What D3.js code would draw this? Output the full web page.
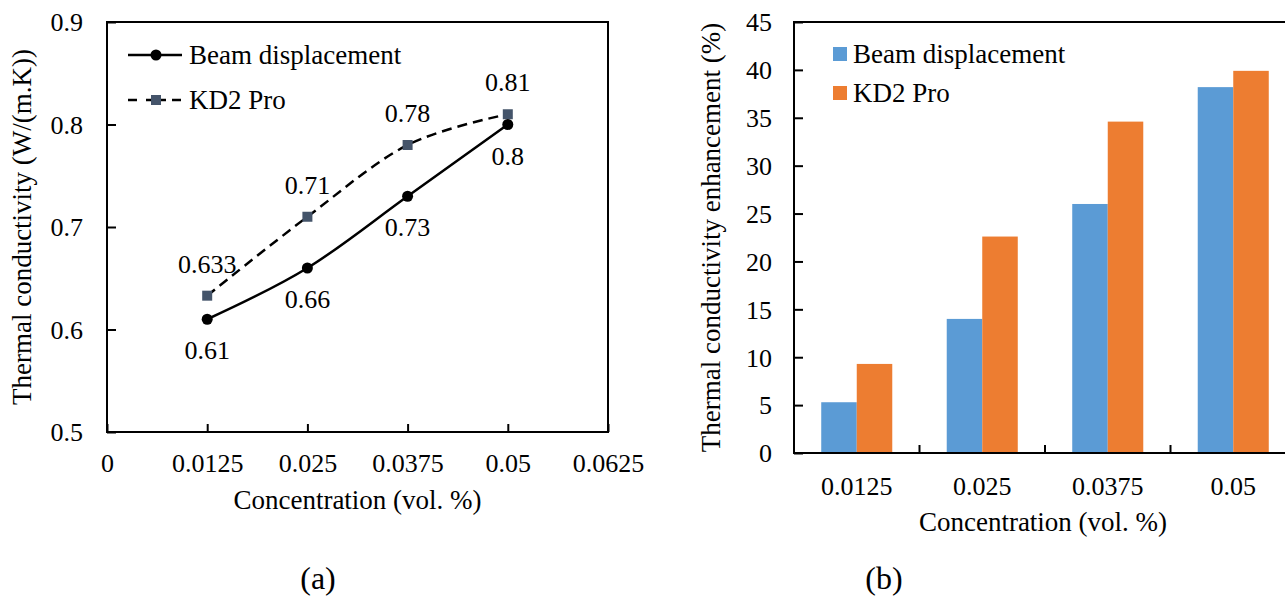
<!DOCTYPE html>
<html>
<head>
<meta charset="utf-8">
<script src="https://cdn.jsdelivr.net/npm/d3@7"></script>
<style>
  html, body { margin: 0; padding: 0; background: #fff; }
  svg { display: block; font-family: "Liberation Serif", "Times New Roman", serif; }
</style>
</head>
<body>
<svg id="fig" width="1285" height="601"></svg>
<script>
// ---- (a) thermal conductivity vs concentration ----
const concentrations = [0.0125, 0.025, 0.0375, 0.05];
const beamConductivity = [0.61, 0.66, 0.73, 0.80];
const beamLabels = ["0.61", "0.66", "0.73", "0.8"];
const kd2Conductivity = [0.633, 0.71, 0.78, 0.81];
const kd2Labels = ["0.633", "0.71", "0.78", "0.81"];
const xTicksA = [0, 0.0125, 0.025, 0.0375, 0.05, 0.0625];
const xTickLabelsA = ["0", "0.0125", "0.025", "0.0375", "0.05", "0.0625"];
const yTicksA = [0.5, 0.6, 0.7, 0.8, 0.9];
const yTickLabelsA = ["0.5", "0.6", "0.7", "0.8", "0.9"];

// ---- (b) enhancement bars ----
const categoriesB = ["0.0125", "0.025", "0.0375", "0.05"];
const beamEnhancement = [5.3, 14.0, 26.0, 38.2];
const kd2Enhancement = [9.3, 22.6, 34.6, 39.9];
const yTicksB = [0, 5, 10, 15, 20, 25, 30, 35, 40, 45];
const seriesNames = ["Beam displacement", "KD2 Pro"];
const barColors = ["#5B9BD5", "#ED7D31"];

const svg = d3.select("#fig");
const tickFont = 26, labelFont = 27;

// ================= Panel (a) =================
const A = { left: 107, right: 608, top: 22, bottom: 432 };
const xA = d3.scaleLinear().domain([0, 0.0625]).range([A.left, A.right]);
const yA = d3.scaleLinear().domain([0.5, 0.9]).range([A.bottom, A.top]);
const gA = svg.append("g");

const axA_x = gA.append("g").attr("transform", `translate(0,${A.bottom})`)
  .call(d3.axisBottom(xA).tickValues(xTicksA).tickSizeInner(-8).tickSizeOuter(0)
    .tickFormat((d, i) => xTickLabelsA[i]));
const axA_y = gA.append("g").attr("transform", `translate(${A.left},0)`)
  .call(d3.axisLeft(yA).tickValues(yTicksA).tickSizeInner(-9).tickSizeOuter(0)
    .tickPadding(24).tickFormat((d, i) => yTickLabelsA[i]));
[axA_x, axA_y].forEach(ax => {
  ax.select(".domain").remove();
  ax.selectAll("line").attr("stroke", "#000").attr("stroke-width", 2);
  ax.selectAll("text").attr("font-size", tickFont).attr("fill", "#000")
    .attr("font-family", "Liberation Serif, Times New Roman, serif");
});
axA_x.selectAll("text").attr("y", 31).attr("dy", "0.35em");
axA_y.selectAll("text").attr("dy", "0.34em");

gA.append("rect").attr("x", A.left).attr("y", A.top)
  .attr("width", A.right - A.left).attr("height", A.bottom - A.top)
  .attr("fill", "none").attr("stroke", "#000").attr("stroke-width", 2);

const lineA = d3.line().curve(d3.curveCardinal.tension(0))
  .x(d => xA(d[0])).y(d => yA(d[1]));
const beamPts = concentrations.map((c, i) => [c, beamConductivity[i]]);
const kd2Pts = concentrations.map((c, i) => [c, kd2Conductivity[i]]);

gA.append("path").attr("d", lineA(kd2Pts)).attr("fill", "none")
  .attr("stroke", "#000").attr("stroke-width", 2.5).attr("stroke-dasharray", "10,6");
gA.append("path").attr("d", lineA(beamPts)).attr("fill", "none")
  .attr("stroke", "#000").attr("stroke-width", 2.5);

gA.selectAll(".kd2pt").data(kd2Pts).enter().append("rect")
  .attr("x", d => xA(d[0]) - 5).attr("y", d => yA(d[1]) - 5)
  .attr("width", 10).attr("height", 10).attr("fill", "#44546A");
gA.selectAll(".beampt").data(beamPts).enter().append("circle")
  .attr("cx", d => xA(d[0])).attr("cy", d => yA(d[1])).attr("r", 5.5).attr("fill", "#000");

gA.selectAll(".beamlbl").data(beamPts).enter().append("text")
  .attr("x", d => xA(d[0])).attr("y", d => yA(d[1]) + 31).attr("dy", "0.35em")
  .attr("text-anchor", "middle").attr("font-size", tickFont)
  .text((d, i) => beamLabels[i]);
gA.selectAll(".kd2lbl").data(kd2Pts).enter().append("text")
  .attr("x", d => xA(d[0])).attr("y", d => yA(d[1]) - 32).attr("dy", "0.35em")
  .attr("text-anchor", "middle").attr("font-size", tickFont)
  .text((d, i) => kd2Labels[i]);

// legend (a)
const legA = gA.append("g");
legA.append("line").attr("x1", 128).attr("x2", 182).attr("y1", 55).attr("y2", 55)
  .attr("stroke", "#000").attr("stroke-width", 2.5);
legA.append("circle").attr("cx", 156).attr("cy", 55).attr("r", 5.5).attr("fill", "#000");
legA.append("text").attr("x", 189).attr("y", 55).attr("dy", "0.33em")
  .attr("font-size", labelFont).text(seriesNames[0]);
[[128, 137], [146, 166], [172, 181]].forEach(([a, b]) => {
  legA.append("line").attr("x1", a).attr("x2", b).attr("y1", 100).attr("y2", 100)
    .attr("stroke", "#000").attr("stroke-width", 2.5);
});
legA.append("rect").attr("x", 151).attr("y", 95).attr("width", 10).attr("height", 10)
  .attr("fill", "#44546A");
legA.append("text").attr("x", 189).attr("y", 100).attr("dy", "0.33em")
  .attr("font-size", labelFont).text(seriesNames[1]);

gA.append("text").attr("x", (A.left + A.right) / 2).attr("y", 509)
  .attr("text-anchor", "middle").attr("font-size", labelFont)
  .text("Concentration (vol. %)");
gA.append("text").attr("transform", `translate(31,${(A.top + A.bottom) / 2}) rotate(-90)`)
  .attr("text-anchor", "middle").attr("font-size", labelFont)
  .text("Thermal conductivity (W/(m.K))");
gA.append("text").attr("x", 318).attr("y", 589).attr("text-anchor", "middle")
  .attr("font-size", 32).text("(a)");

// ================= Panel (b) =================
const B = { left: 794, right: 1296, top: 22, bottom: 453 };
const xB = d3.scaleBand().domain(categoriesB).range([B.left, B.right])
  .paddingInner(0.434).paddingOuter(0.217);
const xSub = d3.scaleBand().domain(seriesNames).range([0, xB.bandwidth()]);
const yB = d3.scaleLinear().domain([0, 45]).range([B.bottom, B.top]);
const gB = svg.append("g");

const rows = categoriesB.map((c, i) => ({ cat: c, vals: [beamEnhancement[i], kd2Enhancement[i]] }));
const grp = gB.selectAll(".grp").data(rows).enter().append("g")
  .attr("transform", d => `translate(${xB(d.cat)},0)`);
grp.selectAll("rect").data(d => d.vals.map((v, j) => ({ v, s: seriesNames[j], j })))
  .enter().append("rect")
  .attr("x", d => xSub(d.s)).attr("width", xSub.bandwidth())
  .attr("y", d => yB(d.v)).attr("height", d => B.bottom - yB(d.v))
  .attr("fill", d => barColors[d.j]);

const axB_y = gB.append("g").attr("transform", `translate(${B.left},0)`)
  .call(d3.axisLeft(yB).tickValues(yTicksB).tickSizeInner(-9).tickSizeOuter(0).tickPadding(22));
const axB_x = gB.append("g").attr("transform", `translate(0,${B.bottom})`)
  .call(d3.axisBottom(xB).tickSize(0));
[axB_x, axB_y].forEach(ax => {
  ax.select(".domain").remove();
  ax.selectAll("line").attr("stroke", "#000").attr("stroke-width", 2);
  ax.selectAll("text").attr("font-size", tickFont).attr("fill", "#000")
    .attr("font-family", "Liberation Serif, Times New Roman, serif");
});
axB_x.selectAll("text").attr("y", 33).attr("dy", "0.35em");
axB_y.selectAll("text").attr("dy", "0.34em");

// category boundary ticks
const bounds = d3.range(1, categoriesB.length).map(i => B.left + i * xB.step());
gB.selectAll(".btick").data(bounds).enter().append("line")
  .attr("x1", d => d).attr("x2", d => d).attr("y1", B.bottom).attr("y2", B.bottom - 8)
  .attr("stroke", "#000").attr("stroke-width", 2);

gB.append("rect").attr("x", B.left).attr("y", B.top)
  .attr("width", B.right - B.left).attr("height", B.bottom - B.top)
  .attr("fill", "none").attr("stroke", "#000").attr("stroke-width", 2);

// legend (b)
seriesNames.forEach((name, i) => {
  const cy = 54 + i * 39;
  gB.append("rect").attr("x", 833).attr("y", cy - 7).attr("width", 14).attr("height", 14)
    .attr("fill", barColors[i]);
  gB.append("text").attr("x", 853).attr("y", cy).attr("dy", "0.33em")
    .attr("font-size", labelFont).text(name);
});

gB.append("text").attr("x", (B.left + B.right) / 2 - 2).attr("y", 531)
  .attr("text-anchor", "middle").attr("font-size", labelFont)
  .text("Concentration (vol. %)");
gB.append("text").attr("transform", `translate(720,${(B.top + B.bottom) / 2}) rotate(-90)`)
  .attr("text-anchor", "middle").attr("font-size", labelFont)
  .text("Thermal conductivity enhancement (%)");
gB.append("text").attr("x", 884).attr("y", 589).attr("text-anchor", "middle")
  .attr("font-size", 32).text("(b)");
</script>
</body>
</html>
